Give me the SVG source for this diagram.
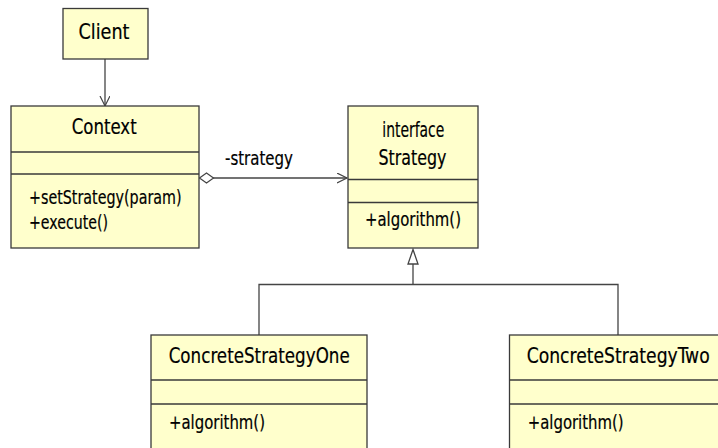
<svg xmlns="http://www.w3.org/2000/svg" width="718" height="448" viewBox="0 0 718 448">
<style>
.box{fill:#FFFFCC;stroke:#3a3a3a;stroke-width:1.3}
.div{stroke:#3a3a3a;stroke-width:1.3;fill:none}
.t{font-family:"DejaVu Sans Condensed","DejaVu Sans",sans-serif;font-size:21.5px;fill:#000;stroke:#000;stroke-width:0.2}
.m{font-family:"DejaVu Sans Condensed","DejaVu Sans",sans-serif;font-size:19px;fill:#000;stroke:#000;stroke-width:0.2}
.c{stroke:#444;stroke-width:1.3;fill:none}
</style>
<defs>
<marker id="open" markerWidth="12" markerHeight="12" refX="10" refY="5" orient="auto" markerUnits="userSpaceOnUse">
<path d="M0,0 L10,5 L0,10" fill="none" stroke="#444" stroke-width="1.2"/>
</marker>
</defs>
<rect width="718" height="448" fill="#fff"/>
<g id="connectors">
<line class="c" x1="105" y1="59" x2="105" y2="106" marker-end="url(#open)"/>
<line class="c" x1="213" y1="178" x2="347" y2="178" marker-end="url(#open)"/>
<path d="M199.5,178 L206.5,173 L213.5,178 L206.5,183 Z" fill="#fff" stroke="#444" stroke-width="1.2"/>
<text class="m" x="225" y="164.5" textLength="68" lengthAdjust="spacingAndGlyphs" font-size="20">-strategy</text>
<path d="M413,249.5 L418,264 L408,264 Z" fill="#fff" stroke="#444" stroke-width="1.3"/>
<polyline class="c" points="413,264 413,284.5"/>
<polyline class="c" points="259,335 259,284.5 618,284.5 618,335"/>
</g>
<g id="client">
<rect class="box" x="63" y="8.5" width="85" height="50.5"/>
<text class="t" x="78.5" y="38.5" textLength="51" lengthAdjust="spacingAndGlyphs">Client</text>
</g>
<g id="context">
<rect class="box" x="11" y="106" width="188" height="142"/>
<line class="div" x1="11" y1="152" x2="199" y2="152"/>
<line class="div" x1="11" y1="174" x2="199" y2="174"/>
<text class="t" x="71.7" y="134" textLength="65" lengthAdjust="spacingAndGlyphs">Context</text>
<text class="m" x="29" y="204" textLength="152.5" lengthAdjust="spacingAndGlyphs">+setStrategy(param)</text>
<text class="m" x="29" y="229" textLength="79" lengthAdjust="spacingAndGlyphs">+execute()</text>
</g>
<g id="strategy">
<rect class="box" x="348" y="106" width="130" height="142"/>
<line class="div" x1="348" y1="179.5" x2="478" y2="179.5"/>
<line class="div" x1="348" y1="202.5" x2="478" y2="202.5"/>
<text class="t" x="382.3" y="137" textLength="62" lengthAdjust="spacingAndGlyphs">interface</text>
<text class="t" x="378.5" y="164.5" textLength="68" lengthAdjust="spacingAndGlyphs">Strategy</text>
<text class="m" x="365" y="226.3" textLength="96" lengthAdjust="spacingAndGlyphs">+algorithm()</text>
</g>
<g id="concreteOne">
<rect class="box" x="151" y="335" width="216" height="130"/>
<line class="div" x1="151" y1="380" x2="367" y2="380"/>
<line class="div" x1="151" y1="404" x2="367" y2="404"/>
<text class="t" x="168.7" y="363.3" textLength="181" lengthAdjust="spacingAndGlyphs">ConcreteStrategyOne</text>
<text class="m" x="169" y="429" textLength="96" lengthAdjust="spacingAndGlyphs">+algorithm()</text>
</g>
<g id="concreteTwo">
<rect class="box" x="509.5" y="335" width="230" height="130"/>
<line class="div" x1="509.5" y1="380" x2="739.5" y2="380"/>
<line class="div" x1="509.5" y1="404" x2="739.5" y2="404"/>
<text class="t" x="526.7" y="363.3" textLength="183" lengthAdjust="spacingAndGlyphs">ConcreteStrategyTwo</text>
<text class="m" x="527.7" y="429" textLength="96" lengthAdjust="spacingAndGlyphs">+algorithm()</text>
</g>
</svg>
